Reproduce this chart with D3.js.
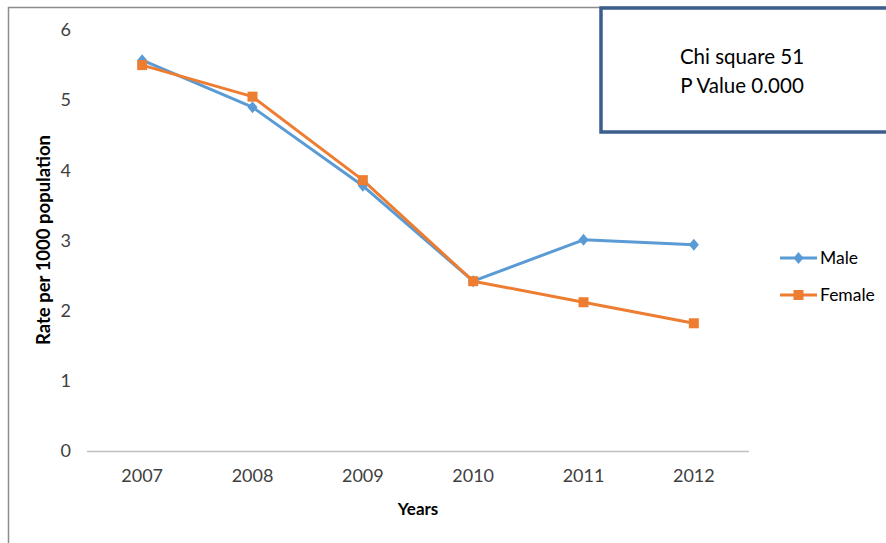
<!DOCTYPE html>
<html>
<head>
<meta charset="utf-8">
<script src="https://cdn.jsdelivr.net/npm/d3@7/dist/d3.min.js"></script>
<style>
  html, body { margin: 0; padding: 0; background: #fff; }
  svg { display: block; }
  text { font-family: Lato, "Open Sans", "Liberation Sans", sans-serif; }
</style>
</head>
<body>
<svg id="chart" width="886" height="543"></svg>
<script>
// Rates per 1000 population, by year and sex
const years = ["2007", "2008", "2009", "2010", "2011", "2012"];
const maleRates = [5.57, 4.90, 3.78, 2.42, 3.01, 2.94];
const femaleRates = [5.50, 5.05, 3.86, 2.42, 2.12, 1.82];
const yTicks = [0, 1, 2, 3, 4, 5, 6];
const seriesNames = ["Male", "Female"];
const seriesColors = ["#5b9bd5", "#ed7d31"];
const statLines = ["Chi square 51", "P Value 0.000"];

const series = [
  { name: seriesNames[0], color: seriesColors[0], values: maleRates, shape: "diamond" },
  { name: seriesNames[1], color: seriesColors[1], values: femaleRates, shape: "square" }
];

const svg = d3.select("#chart");
const plot = { left: 87, right: 749, top: 30, bottom: 451 };

const x = d3.scaleBand().domain(years).range([plot.left, plot.right]);
const y = d3.scaleLinear().domain([0, 6]).range([plot.bottom, plot.top]);

// chart frame
svg.append("path")
  .attr("d", `M8.5,543 L8.5,7.5 L886,7.5`)
  .attr("fill", "none")
  .attr("stroke", "#8c8c8c")
  .attr("stroke-width", 1.5);

// y axis labels (no axis line)
const yAxis = d3.axisLeft(y).tickValues(yTicks).tickSize(0).tickPadding(0).tickFormat(d3.format("d"));
const gy = svg.append("g").attr("transform", `translate(${plot.left - 16},0)`).call(yAxis);
gy.select(".domain").remove();
gy.selectAll("text").attr("font-size", 18).attr("fill", "#404040")
  .style("font-family", "Lato, 'Open Sans', sans-serif");

// x axis
const xAxis = d3.axisBottom(x).tickSize(0).tickPadding(18);
const gx = svg.append("g").attr("transform", `translate(0,${plot.bottom})`).call(xAxis);
gx.select(".domain").attr("stroke", "#bfbfbf").attr("stroke-width", 1.5)
  .attr("d", `M${plot.left},0.5H${plot.right}`);
gx.selectAll("text").attr("font-size", 18).attr("fill", "#404040")
  .style("font-family", "Lato, 'Open Sans', sans-serif");

// axis titles
svg.append("text")
  .attr("x", 418).attr("y", 515)
  .attr("text-anchor", "middle")
  .attr("font-size", 17).attr("font-weight", "bold").attr("fill", "#000")
  .text("Years");

svg.append("text")
  .attr("transform", `translate(50,240) rotate(-90)`)
  .attr("text-anchor", "middle")
  .attr("font-size", 18.5).attr("font-weight", "bold").attr("fill", "#000")
  .text("Rate per 1000 population");

const cx = d => x(d) + x.bandwidth() / 2;

function drawMarker(g, shape, color, px, py) {
  if (shape === "square") {
    g.append("rect").attr("x", px - 5).attr("y", py - 5).attr("width", 10).attr("height", 10)
      .attr("fill", color);
  } else {
    g.append("path").attr("d", `M${px},${py - 6}L${px + 5},${py}L${px},${py + 6}L${px - 5},${py}Z`)
      .attr("fill", color);
  }
}

const line = d3.line().x((d, i) => cx(years[i])).y(d => y(d));

series.forEach(s => {
  const g = svg.append("g");
  g.append("path")
    .attr("d", line(s.values))
    .attr("fill", "none")
    .attr("stroke", s.color)
    .attr("stroke-width", 3)
    .attr("stroke-linejoin", "round");
  s.values.forEach((v, i) => drawMarker(g, s.shape, s.color, cx(years[i]), y(v)));
});

// legend
const legend = svg.append("g");
series.forEach((s, i) => {
  const ly = 258 + i * 37;
  legend.append("line").attr("x1", 780).attr("x2", 817).attr("y1", ly).attr("y2", ly)
    .attr("stroke", s.color).attr("stroke-width", 3);
  drawMarker(legend, s.shape, s.color, 798.5, ly);
  legend.append("text").attr("x", 820).attr("y", ly + 6)
    .attr("font-size", 17.5).attr("fill", "#000").text(s.name);
});

// statistics box
svg.append("rect")
  .attr("x", 601).attr("y", 8).attr("width", 300).attr("height", 124)
  .attr("fill", "#fff").attr("stroke", "#3b5e8c").attr("stroke-width", 3.5);
statLines.forEach((t, i) => {
  svg.append("text")
    .attr("x", 742).attr("y", 64 + i * 29)
    .attr("text-anchor", "middle")
    .attr("font-size", 20.5).attr("fill", "#000")
    .text(t);
});
</script>
</body>
</html>
